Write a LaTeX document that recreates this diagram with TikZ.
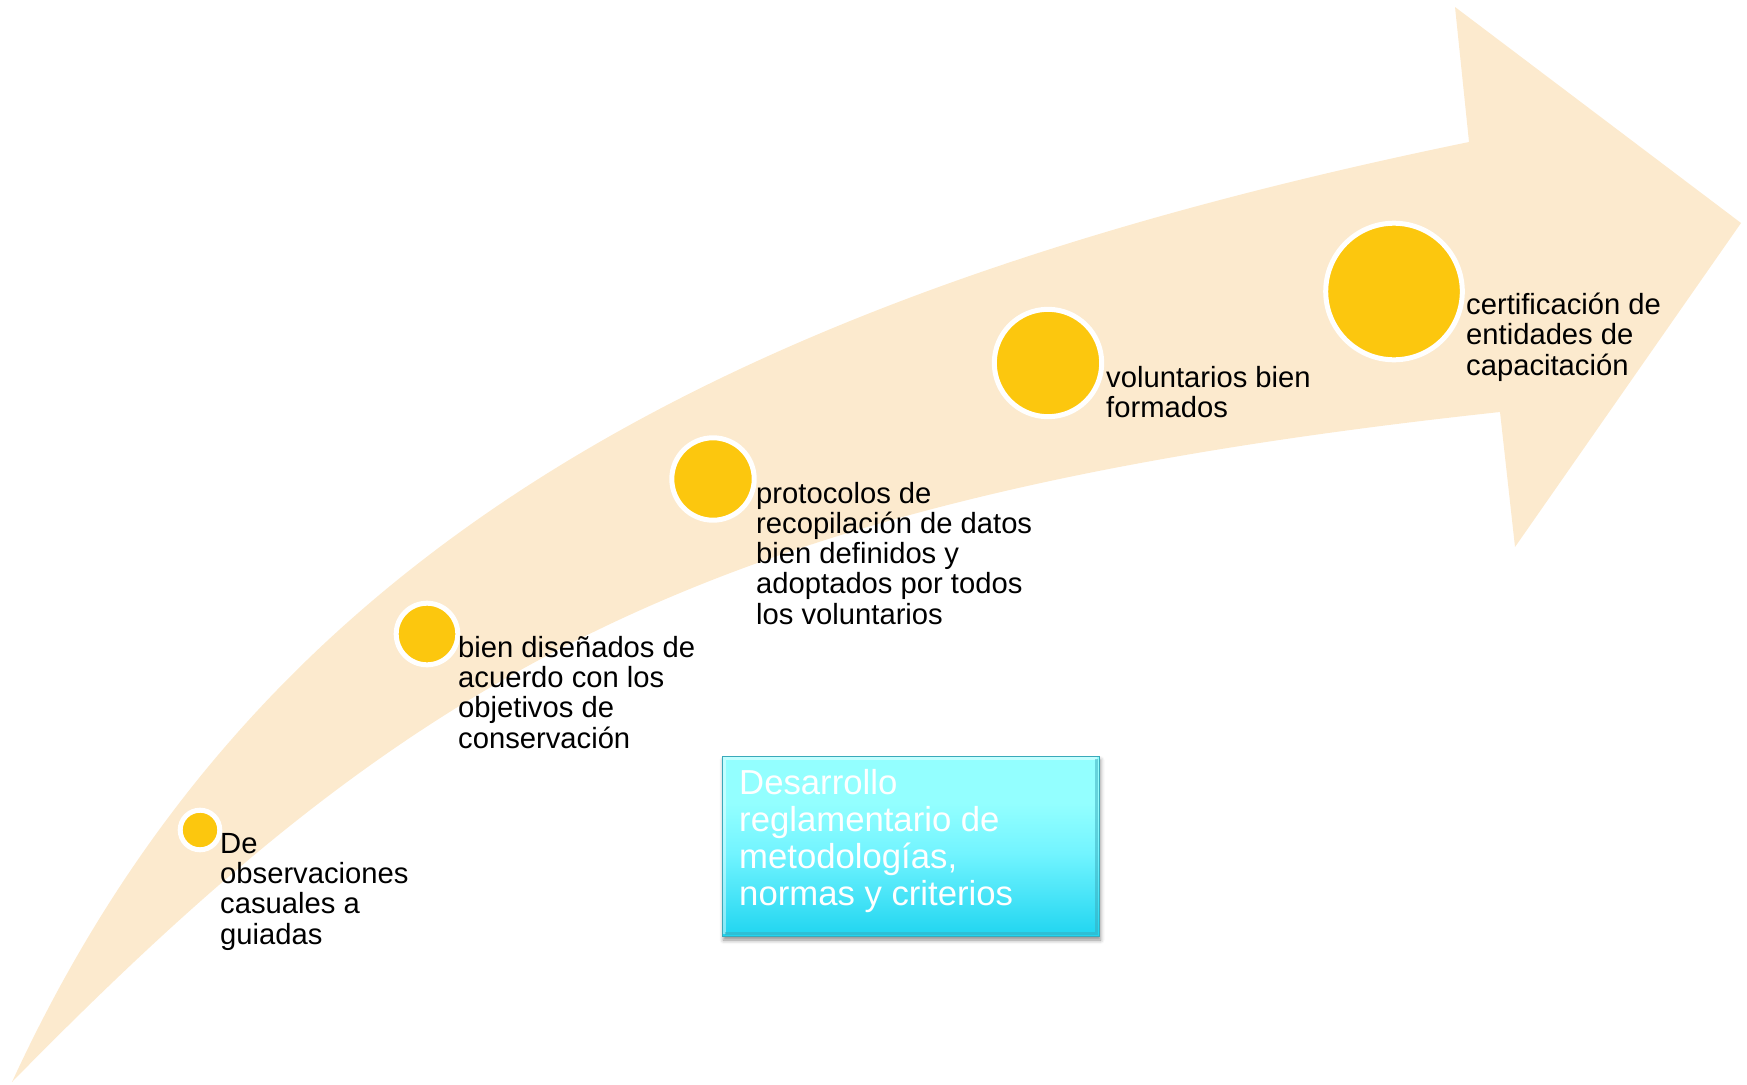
\documentclass[tikz,border=0pt]{standalone}
\usepackage{fontspec}
\setmainfont{Liberation Sans}
\usetikzlibrary{shadows.blur}
\definecolor{peach}{HTML}{FCEACE}
\definecolor{yel}{HTML}{FCC70E}
\definecolor{boxtop}{HTML}{93FFFF}
\definecolor{boxmid}{HTML}{72F4FF}
\definecolor{boxbot}{HTML}{20D5F0}
\definecolor{boxedge}{HTML}{3AA9BA}
\pgfdeclareverticalshading{boxshade}{100bp}{color(0bp)=(boxbot); color(25bp)=(boxbot); color(48bp)=(boxmid); color(62bp)=(boxtop); color(75bp)=(boxtop); color(100bp)=(boxtop)}
\begin{document}
\begin{tikzpicture}[x=1pt,y=-1pt,
  dot/.style={circle, fill=yel, draw=white, line width=5pt, inner sep=0pt, outer sep=0pt},
  lbl/.style={anchor=base west, inner sep=0pt, align=left, text=black, font=\fontsize{29.2}{30.1}\selectfont},
  boxtxt/.style={anchor=base west, inner sep=0pt, align=left, text=white, font=\fontsize{34.7}{37.1}\selectfont},
  devbox/.style={rectangle, inner sep=0pt, outer sep=0pt, shading=boxshade, draw=boxedge, line width=1pt,
     blur shadow={shadow xshift=1.5pt, shadow yshift=-4pt, shadow blur radius=4pt, shadow opacity=45}}
]
\useasboundingbox (0,0) rectangle (1747,1084);
% curved arrow
\coordinate (tail) at (12,1082);
\coordinate (un) at (1469,142);
\coordinate (ht) at (1455,7);
\coordinate (tip) at (1741,223);
\coordinate (hb) at (1515,547);
\coordinate (ln) at (1500,412);
\fill[peach] (tail) .. controls (247,572) and (686,303) .. (un)
  -- (ht) -- (tip) -- (hb) -- (ln)
  .. controls (705,498) and (418,668) .. (tail) -- cycle;
% milestones
\node[dot, minimum size=39.6pt] (c1) at (200,830) {};
\node[dot, minimum size=61.6pt] (c2) at (427,634) {};
\node[dot, minimum size=82.4pt] (c3) at (713,479) {};
\node[dot, minimum size=107.4pt] (c4) at (1048,363) {};
\node[dot, minimum size=136.6pt] (c5) at (1394,291.5) {};
% labels (anchored at the baseline of their last line)
\node[lbl] (t1) at (220,944) {De\\observaciones\\casuales a\\guiadas};
\node[lbl] (t2) at (458,748) {bien diseñados de\\acuerdo con los\\objetivos de\\conservación};
\node[lbl] (t3) at (756,624) {protocolos de\\recopilación de datos\\bien definidos y\\adoptados por todos\\los voluntarios};
\node[lbl] (t4) at (1106,417.3) {voluntarios bien\\formados};
\node[lbl] (t5) at (1466,375) {certificación de\\entidades de\\capacitación};
% box
\node[devbox, minimum width=377pt, minimum height=180pt, anchor=north west] (dev) at (722,756) {};
\draw[white, opacity=0.45, line width=3pt] ([xshift=2.5pt,yshift=2.5pt]dev.south west) -- ([xshift=2.5pt,yshift=-2.5pt]dev.north west) -- ([xshift=-2.5pt,yshift=-2.5pt]dev.north east);
\draw[boxedge, opacity=0.5, line width=3pt] ([xshift=2.5pt,yshift=2.5pt]dev.south west) -- ([xshift=-2.5pt,yshift=2.5pt]dev.south east) -- ([xshift=-2.5pt,yshift=-2.5pt]dev.north east);
\node[boxtxt] (tb) at (739,905.7) {Desarrollo\\reglamentario de\\metodologías,\\normas y criterios};
\end{tikzpicture}
\end{document}
